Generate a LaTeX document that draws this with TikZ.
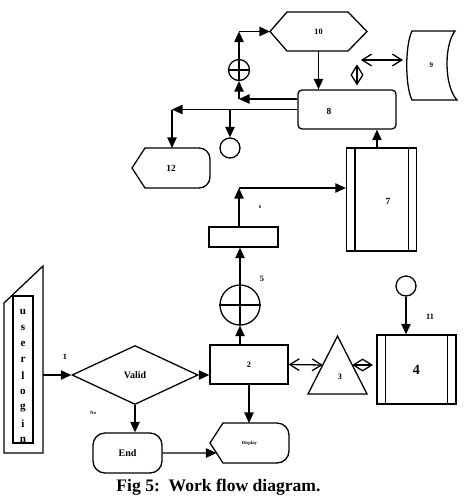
\documentclass[tikz,border=0pt]{standalone}
\usepackage{fontspec}
\setmainfont{Liberation Serif}
\usetikzlibrary{positioning,arrows.meta,calc,shapes.geometric}
\newcommand{\fsz}[1]{\fontsize{#1}{#1}\selectfont\bfseries}
\tikzset{
  flowbox/.style={draw, line width=1.1pt, inner sep=0pt, align=center},
  ghost/.style={inner sep=0pt, outer sep=0pt, align=center},
  shapeline/.style={line width=1.1pt, line join=miter},
  arr/.style={line width=1.1pt, -{Triangle[length=9pt,width=8pt]}},
  dbl/.style={line width=1.1pt, {Straight Barb[length=8pt,width=10pt]}-{Straight Barb[length=8pt,width=10pt]}},
  numlbl/.style={font=\fsz{7}},
  tinylbl/.style={font=\fsz{4}},
}
\begin{document}
\begin{tikzpicture}[x=0.03cm, y=-0.03cm]
  \useasboundingbox (0,0) rectangle (465,497);

  % user login
  \node[ghost, minimum width=1.17cm, minimum height=5.61cm] (login) at (23.5,359.5) {};
  \draw[shapeline] ([yshift=-1.11cm]login.north west) -- (login.north east)
    -- (login.south east) -- (login.south west) -- cycle;
  \node[flowbox, minimum width=0.6cm, minimum height=4.41cm] (loginbox) at (23,369.5) {};
  \begin{scope}
    \clip (loginbox.south west) rectangle (loginbox.north east);
    \foreach \ch [count=\i from 0] in {u,s,e,r,l,o,g,i,n}
      \node[font=\fsz{9.5}] (ch\i) at (23,{312+16*\i}) {\ch};
  \end{scope}

  \node[flowbox, diamond, minimum width=3.78cm, minimum height=1.77cm, font=\fsz{8.5}] (valid) at (135,375) {Valid};
  \node[flowbox, rounded corners=0.36cm, minimum width=2.07cm, minimum height=1.2cm, font=\fsz{8.5}] (endb) at (127.5,453) {End};
  \node[ghost, minimum width=2.37cm, minimum height=1.2cm, font=\fsz{4}] (disp) at (249.5,443) {Display};
  \draw[shapeline] (disp.west) -- ([xshift=0.39cm]disp.north west)
    [rounded corners=0.36cm] -- (disp.north east) -- (disp.south east)
    [sharp corners] -- ([xshift=0.39cm]disp.south west) -- cycle;

  \node[flowbox, minimum width=2.34cm, minimum height=1.17cm, font=\fsz{7}] (box2) at (249,364.5) {2};
  \node[flowbox, circle, minimum size=1.2cm] (c5) at (240,305) {};
  \node[flowbox, minimum width=2.07cm, minimum height=0.6cm] (r6) at (243.5,237) {};
  \node[flowbox, minimum width=2.1cm, minimum height=3.09cm] (box7) at (381.5,199.5) {};
  \node[font=\fsz{8}] (t7) at (388,201) {7};
  \node[flowbox, rounded corners=3.5pt, minimum width=2.94cm, minimum height=1.17cm] (box8) at (347,109.5) {};
  \node[font=\fsz{8}] (t8) at (329,111) {8};

  % hexagon 10
  \node[ghost, minimum width=2.91cm, minimum height=1.17cm, font=\fsz{7}] (ten) at (318.5,31.5) {10};
  \draw[shapeline] (ten.west) -- ([xshift=0.51cm]ten.north west) -- ([xshift=-0.57cm]ten.north east)
    -- (ten.east) -- ([xshift=-0.57cm]ten.south east) -- ([xshift=0.51cm]ten.south west) -- cycle;

  \node[flowbox, circle, minimum size=0.63cm] (cp) at (239,70) {};
  \node[flowbox, circle, minimum size=0.6cm] (sc) at (230,148) {};
  \node[flowbox, circle, minimum size=0.6cm] (c11) at (406,286) {};

  % display 12
  \node[ghost, minimum width=2.34cm, minimum height=1.2cm, font=\fsz{8}] (hex12) at (171,168) {12};
  \draw[shapeline] (hex12.west) -- ([xshift=0.39cm]hex12.north west)
    [rounded corners=0.33cm] -- (hex12.north east) -- (hex12.south east)
    [sharp corners] -- ([xshift=0.39cm]hex12.south west) -- cycle;

  % stored data 9
  \node[ghost, minimum width=1.5cm, minimum height=2.07cm, font=\fsz{6}] (nine) at (431.5,65.5) {9};
  \draw[shapeline] (412,31) .. controls (405,45) and (405,86) .. (412,100) -- (457,100)
    .. controls (444,86) and (444,45) .. (455,31) -- cycle;

  \node[ghost, minimum width=1.77cm, minimum height=1.74cm] (tri) at (337.5,365) {};
  \draw[shapeline] (tri.north) -- (tri.south east) -- (tri.south west) -- cycle;
  \node[numlbl] (t3) at (340,377) {3};
  \node[flowbox, minimum width=2.37cm, minimum height=2.07cm, font=\fsz{12}] (box4) at (416.5,369.5) {4};

  \foreach \b in {box7,box4}
    \draw[shapeline] ([xshift=0.27cm]\b.north west) -- ([xshift=0.27cm]\b.south west)
      ([xshift=-0.27cm]\b.north east) -- ([xshift=-0.27cm]\b.south east);
  \foreach \c in {c5,cp}
    \draw[shapeline] (\c.north) -- (\c.south) (\c.west) -- (\c.east);

  % connectors
  \coordinate (k6) at (239,188);
  \coordinate (k8a) at (239,99);
  \coordinate (k8b) at (172,109.5);
  \coordinate (k10) at (cp.north |- ten.west);
  \coordinate (trl) at ($(tri.north)!0.5!(tri.south west)$);
  \coordinate (trr) at ($(tri.north)!0.5!(tri.south east)$);
  \coordinate (dispin) at ($(disp.west)!0.5!([xshift=0.39cm]disp.south west)$);
  \draw[arr] (valid.west -| login.east) -- (valid.west);
  \draw[arr] (valid.east) -- (valid.east -| box2.west);
  \draw[arr] (valid.south) -- (valid.south |- endb.north);
  \draw[arr] (endb.east) -- (dispin);
  \draw[arr] (box2.south) -- (box2.south |- disp.north);
  \draw[arr] (c5.south |- box2.north) -- (c5.south);
  \draw[arr] (c5.north) -- (c5.north |- r6.south);
  \draw[arr] (k6 |- r6.north) -- (k6);
  \draw[arr] (k6) -- (k6 -| box7.west);
  \draw[arr] ([xshift=-0.135cm]box7.north) -- ([xshift=-0.135cm]box7.north |- box8.south);
  \draw[arr] (ten.south) -- (ten.south |- box8.north);
  \draw[arr] (k8a -| box8.west) -- (k8a);
  \draw[arr] (k8a) -- (cp.south);
  \draw[arr] (cp.north) -- (k10);
  \draw[arr] (k10) -- (ten.west);
  \draw[arr] (box8.west) -- (k8b);
  \draw[arr] (k8b) -- (k8b |- hex12.north);
  \draw[arr] (sc.north |- box8.west) -- (sc.north);
  \draw[arr] (c11.south) -- (c11.south |- box4.north);
  \draw[dbl] ([xshift=0.3cm, yshift=0.12cm]box8.north) -- ([xshift=0.3cm, yshift=0.75cm]box8.north);
  \draw[dbl] (361,60) -- (403,60);
  \draw[dbl] (box2.east) -- (trl);
  \draw[dbl] (trr) -- ([xshift=-0.1cm]trr -| box4.west);

  % labels
  \node[numlbl] (n1) at (65,357) {1};
  \node[numlbl] (n5) at (262,279) {5};
  \node[numlbl] (n11) at (430,317) {11};
  \node[tinylbl] (n6) at (260,207) {6};
  \node[tinylbl] (no) at (93,413) {No};
  \node[font=\fsz{15}] (caption) at (218.5,487) {Fig 5:\ \ Work flow diagram.};
\end{tikzpicture}
\end{document}
